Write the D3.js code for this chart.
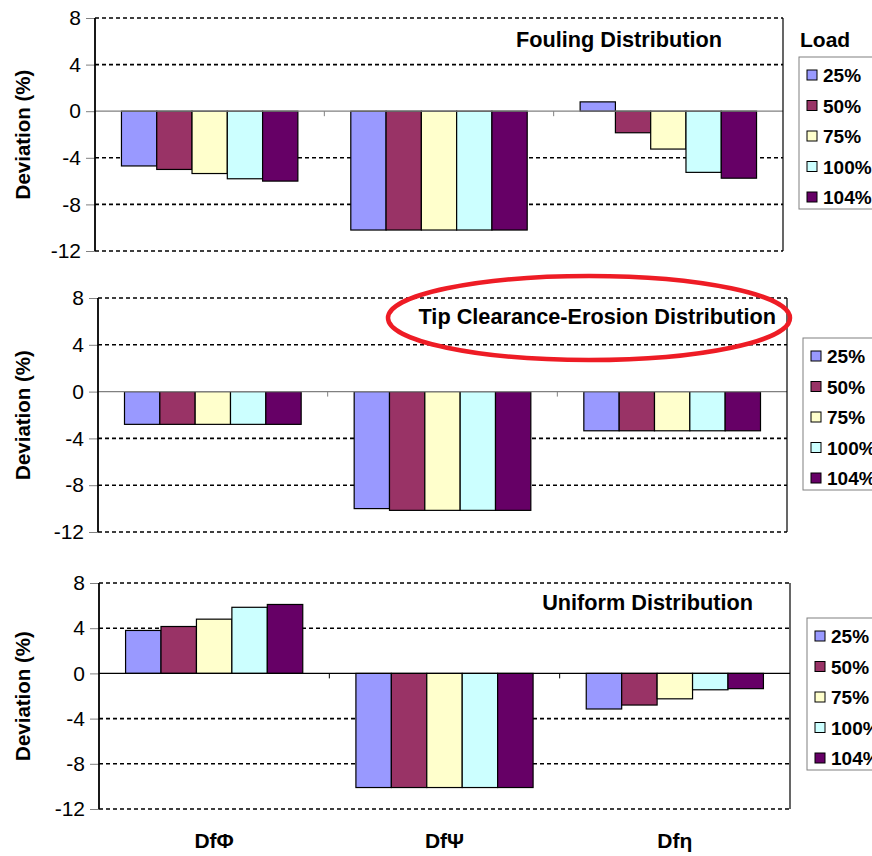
<!DOCTYPE html>
<html>
<head>
<meta charset="utf-8">
<script src="https://cdn.jsdelivr.net/npm/d3@7"></script>
<style>
  body { margin: 0; background: #fff; }
  svg { font-family: "Liberation Sans", Arial, sans-serif; }
</style>
</head>
<body>
<div id="chart"></div>
<script>
// categories and loads
const categories = ["DfΦ", "DfΨ", "Dfη"];
const loads = ["25%", "50%", "75%", "100%", "104%"];
const loadColors = ["#9999ff", "#993366", "#ffffcc", "#ccffff", "#660066"];
const yTicks = [8, 4, 0, -4, -8, -12];

// deviation (%) per category, one value per load
const foulingDev = [
    [-4.7, -5.0, -5.35, -5.8, -6.0],
    [-10.2, -10.2, -10.2, -10.2, -10.2],
    [0.8, -1.85, -3.25, -5.25, -5.75]
];
const tipDev = [
    [-2.8, -2.8, -2.8, -2.8, -2.8],
    [-10.0, -10.15, -10.15, -10.15, -10.15],
    [-3.35, -3.35, -3.35, -3.35, -3.35]
];
const uniformDev = [
    [3.8, 4.15, 4.8, 5.85, 6.1],
    [-10.1, -10.1, -10.1, -10.1, -10.1],
    [-3.15, -2.8, -2.25, -1.45, -1.35]
];

const svg = d3.select("#chart").append("svg")
    .attr("width", 872)
    .attr("height", 856);

const paneles = [
    { datos: foulingDev, titulo: "Fouling Distribution", left: 95, right: 783, top: 18, bottom: 251,
      tituloX: 722, tituloY: 47, legX: 799, legY: 57, zeroColor: "#808080", load: true },
    { datos: tipDev, titulo: "Tip Clearance-Erosion Distribution", left: 98, right: 787, top: 298, bottom: 532,
      tituloX: 776, tituloY: 324, legX: 803, legY: 338, zeroColor: "#808080", load: false, ellipse: true },
    { datos: uniformDev, titulo: "Uniform Distribution", left: 99, right: 790, top: 583, bottom: 809,
      tituloX: 753, tituloY: 610, legX: 807, legY: 618, zeroColor: "#000", load: false }
];

paneles.forEach(p => dibujarPanel(p));

// category labels under the last panel
const xLab = d3.scaleBand().domain(categories).range([paneles[2].left, paneles[2].right]);
svg.selectAll(".catlab")
    .data(categories)
    .enter()
    .append("text")
    .attr("x", d => xLab(d) + xLab.bandwidth() / 2)
    .attr("y", 848)
    .attr("text-anchor", "middle")
    .style("font-size", "21px")
    .style("font-weight", "bold")
    .text(d => d);

function dibujarPanel(p) {
    const g = svg.append("g");

    const y = d3.scaleLinear().domain([-12, 8]).range([p.bottom, p.top]);
    const x0 = d3.scaleBand().domain(categories).range([p.left, p.right]);
    const x1 = d3.scaleBand().domain(loads).range([0, x0.bandwidth()]).paddingOuter(0.75);
    const color = d3.scaleOrdinal().domain(loads).range(loadColors);

    // gridlines (dashed)
    g.selectAll(".grid")
        .data(yTicks.filter(t => t !== 0))
        .enter()
        .append("line")
        .attr("x1", p.left).attr("x2", p.right)
        .attr("y1", d => y(d)).attr("y2", d => y(d))
        .attr("stroke", "#000")
        .attr("stroke-width", 1.6)
        .attr("stroke-dasharray", "4,3");

    // left axis
    const axis = g.append("g")
        .attr("transform", `translate(${p.left},0)`)
        .call(d3.axisLeft(y).tickValues(yTicks).tickSize(9).tickPadding(5).tickFormat(d => String(d)));
    axis.select(".domain").remove();
    axis.selectAll(".tick line").attr("stroke", "#808080");
    axis.selectAll(".tick text")
        .attr("fill", "#000")
        .style("font-size", "21px")
        .style("font-family", "Liberation Sans, Arial, sans-serif");

    // bars
    const filas = [];
    p.datos.forEach((vals, i) => {
        vals.forEach((v, j) => filas.push({ cat: categories[i], load: loads[j], valor: v }));
    });

    g.selectAll(".bar")
        .data(filas)
        .enter()
        .append("rect")
        .attr("x", d => x0(d.cat) + x1(d.load))
        .attr("y", d => y(Math.max(0, d.valor)))
        .attr("width", x1.bandwidth())
        .attr("height", d => Math.abs(y(d.valor) - y(0)))
        .attr("fill", d => color(d.load))
        .attr("stroke", "#000")
        .attr("stroke-width", 1.2);

    // zero line and category ticks
    g.append("line")
        .attr("x1", p.left).attr("x2", p.right)
        .attr("y1", y(0)).attr("y2", y(0))
        .attr("stroke", p.zeroColor)
        .attr("stroke-width", 1.2);
    g.selectAll(".ctick")
        .data(categories.slice(1))
        .enter()
        .append("line")
        .attr("x1", d => x0(d)).attr("x2", d => x0(d))
        .attr("y1", y(0)).attr("y2", y(0) + 5)
        .attr("stroke", p.zeroColor);

    // side borders
    g.append("line")
        .attr("x1", p.left).attr("x2", p.left)
        .attr("y1", p.top).attr("y2", p.bottom)
        .attr("stroke", "#000").attr("stroke-width", 1.8);
    g.append("line")
        .attr("x1", p.right).attr("x2", p.right)
        .attr("y1", p.top).attr("y2", p.bottom)
        .attr("stroke", "#000").attr("stroke-width", 1.2);

    // y label
    g.append("text")
        .attr("transform", `translate(30,${(p.top + p.bottom) / 2}) rotate(-90)`)
        .attr("text-anchor", "middle")
        .style("font-size", "20.5px")
        .style("font-weight", "bold")
        .text("Deviation (%)");

    // panel title
    g.append("text")
        .attr("x", p.tituloX)
        .attr("y", p.tituloY)
        .attr("text-anchor", "end")
        .style("font-size", "21.7px")
        .style("font-weight", "bold")
        .text(p.titulo);

    if (p.ellipse) {
        g.append("ellipse")
            .attr("cx", 589).attr("cy", 318)
            .attr("rx", 201).attr("ry", 42)
            .attr("fill", "none")
            .attr("stroke", "#ee1c25")
            .attr("stroke-width", 4.5);
    }

    if (p.load) {
        g.append("text")
            .attr("x", p.legX + 1)
            .attr("y", 47)
            .style("font-size", "21px")
            .style("font-weight", "bold")
            .text("Load");
    }

    // legend
    const leg = g.append("g").attr("transform", `translate(${p.legX},${p.legY})`);
    leg.append("rect")
        .attr("width", 100).attr("height", 152)
        .attr("fill", "#fff")
        .attr("stroke", "#808080");
    const items = leg.selectAll(".item")
        .data(loads)
        .enter()
        .append("g")
        .attr("transform", (d, i) => `translate(8,${18 + i * 30.5})`);
    items.append("rect")
        .attr("x", 0).attr("y", -5)
        .attr("width", 10).attr("height", 10)
        .attr("fill", d => color(d))
        .attr("stroke", "#000");
    items.append("text")
        .attr("x", 16)
        .attr("y", 7)
        .style("font-size", "19px")
        .style("font-weight", "bold")
        .text(d => d);
}
</script>
</body>
</html>
